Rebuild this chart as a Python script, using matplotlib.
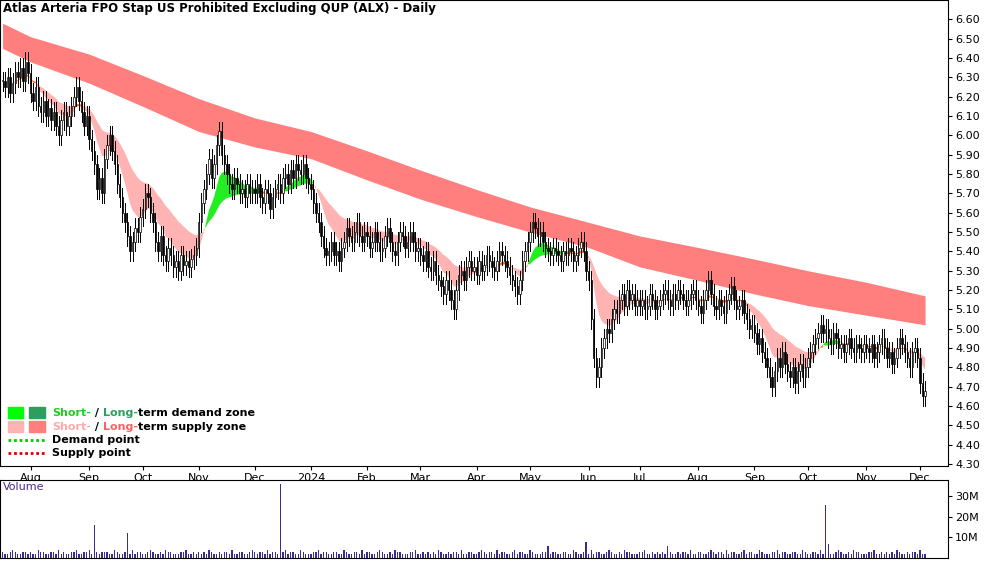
import numpy as np
import pandas as pd
import matplotlib
matplotlib.use("Agg")
import matplotlib.pyplot as plt
from matplotlib.patches import Rectangle

title = "Atlas Arteria FPO Stap US Prohibited Excluding QUP (ALX) - Daily"
closes = [
6.28,6.25,6.30,6.22,6.27,6.33,6.30,6.35,6.28,6.38,6.32,
6.22,6.18,6.25,6.15,6.12,6.18,6.10,6.14,6.08,6.12,6.05,6.00,6.08,6.12,6.05,6.10,6.15,6.20,6.25,6.18,6.12,6.05,6.10,
5.98,5.92,5.85,5.72,5.78,5.70,5.88,5.95,6.00,5.92,5.85,5.75,5.68,5.60,5.55,5.48,5.40,5.45,5.52,5.50,5.58,
5.62,5.70,5.68,5.60,5.55,5.45,5.40,5.48,5.38,5.35,5.42,5.38,5.32,5.35,5.30,5.38,5.33,5.35,5.32,5.36,5.38,5.42,
5.55,5.65,5.72,5.80,5.88,5.78,5.85,5.95,6.02,5.90,5.85,5.80,5.75,5.72,5.78,5.75,5.70,5.72,5.68,5.75,5.70,5.72,
5.70,5.75,5.68,5.65,5.72,5.70,5.62,5.68,5.72,5.75,5.70,5.78,5.80,5.75,5.82,5.78,5.85,5.82,5.80,5.85,5.78,
5.75,5.72,5.65,5.60,5.55,5.48,5.42,5.38,5.40,5.45,5.38,5.40,5.35,5.42,5.45,5.52,5.48,5.45,5.50,5.55,5.48,5.45,5.50,
5.48,5.42,5.45,5.50,5.45,5.40,5.42,5.48,5.52,5.45,5.40,5.38,5.45,5.50,5.48,5.42,5.45,5.50,5.45,5.40,5.42,
5.38,5.35,5.40,5.32,5.30,5.35,5.28,5.25,5.22,5.18,5.25,5.20,5.15,5.10,5.20,5.28,5.30,5.25,5.32,5.35,5.30,
5.32,5.28,5.35,5.30,5.33,5.38,5.35,5.32,5.30,5.35,5.40,5.38,5.35,5.32,5.28,5.25,5.22,5.18,5.25,5.35,5.40,5.45,
5.50,5.55,5.52,5.48,5.50,5.45,5.42,5.40,5.38,5.42,5.40,5.38,5.35,5.40,5.38,5.42,5.40,5.35,5.38,5.42,5.45,5.40,5.30,
5.25,5.05,4.85,4.75,4.80,4.90,4.95,5.00,4.98,5.05,5.10,5.08,5.15,5.18,5.12,5.20,5.15,5.18,5.12,5.15,
5.12,5.15,5.10,5.12,5.18,5.15,5.10,5.12,5.15,5.18,5.20,5.15,5.12,5.18,5.15,5.20,5.18,5.15,5.12,5.15,5.18,5.20,5.15,
5.12,5.08,5.15,5.20,5.25,5.18,5.12,5.10,5.15,5.12,5.08,5.15,5.18,5.22,5.15,5.10,5.12,5.15,5.08,5.05,5.00,5.02,
4.98,4.92,4.95,4.88,4.85,4.80,4.75,4.70,4.78,4.85,4.80,4.88,4.82,4.78,4.75,4.80,4.72,4.78,4.82,4.75,4.80,
4.85,4.88,4.92,4.95,4.98,5.02,4.98,5.00,4.95,4.92,4.98,4.95,4.90,4.92,4.88,4.92,4.95,4.90,4.88,4.92,4.90,4.88,4.92,
4.90,4.88,4.92,4.85,4.88,4.92,4.95,4.90,4.85,4.88,4.82,4.85,4.90,4.95,4.92,4.88,4.85,4.80,4.88,4.90,4.85,
4.72,4.65,4.68]
vol_digits = ("3223432233" "2322433223" "3242322334" "2233422323" "3322432233"
              "2423322343" "2232433222" "3342232323" "2432232332" "4223322343"
              "2332423322" "3423322432" "2233423322" "3322432233" "2423322343"
              "2232433222" "3342232323" "2432232332" "4223322343" "2332423322"
              "3423322432" "2233423322" "3322432233" "2423322343" "2232433222"
              "3342232323" "2432232332" "4223322343" "2332423322" "3423322432"
              "2233423322" "3322432233" "2423322343" "2232433222" "3342232323"
              "2432232332" "422")
vol_spikes = {36: 16, 49: 12, 109: 36, 229: 8, 261: 6, 323: 26, 324: 7, 214: 6}
band_dates = ["2023-07-17","2023-08-01","2023-09-01","2023-10-02","2023-11-01","2023-12-01",
              "2024-01-02","2024-02-01","2024-03-01","2024-04-02","2024-05-01","2024-06-03",
              "2024-07-01","2024-08-01","2024-09-02","2024-10-01","2024-11-01","2024-12-04"]
long_top = [6.58,6.51,6.42,6.31,6.19,6.09,6.02,5.92,5.82,5.72,5.63,5.55,5.48,5.42,5.36,5.30,5.24,5.17]
long_bot = [6.45,6.38,6.27,6.15,6.02,5.94,5.88,5.77,5.67,5.58,5.50,5.42,5.32,5.25,5.18,5.12,5.07,5.02]
month_labels = ["Aug","Sep","Oct","Nov","Dec","2024","Feb","Mar","Apr","May","Jun","Jul","Aug","Sep","Oct","Nov","Dec"]
month_starts = ["2023-08-01","2023-09-01","2023-10-02","2023-11-01","2023-12-01","2024-01-02","2024-02-01",
                "2024-03-01","2024-04-02","2024-05-01","2024-06-03","2024-07-01","2024-08-01","2024-09-02",
                "2024-10-01","2024-11-01","2024-12-02"]

n = len(closes)
dates = pd.bdate_range("2023-07-17", periods=n)
x = np.arange(n)
def d2x(d):
    return np.searchsorted(dates, pd.Timestamp(d))
c = np.array(closes)
o = np.concatenate([[c[0]], c[:-1]])
hi = np.maximum(o, c) + 0.05
lo = np.minimum(o, c) - 0.05
vols = np.array([int(vol_digits[i]) if i < len(vol_digits) else 3 for i in range(n)], float)
for k, v in vol_spikes.items():
    if k < n: vols[k] = v
vols *= 1e6

fig = plt.figure(figsize=(10, 5.62), dpi=100)
ax = fig.add_axes([0.0, 1-466/562, 0.948, 466/562])
av = fig.add_axes([0.0, 1-558/562, 0.948, 78/562], sharex=ax)

bx = [d2x(d) for d in band_dates]
ax.fill_between(bx, long_bot, long_top, color="#ff7f7f", lw=0, zorder=1)
s = pd.Series(c)
fast = s.ewm(span=10).mean().values
slow = s.ewm(span=30).mean().values
diff = fast - slow
up = diff > 0.015
dn = diff < -0.015
mid = ~(up | dn)
ax.fill_between(x, fast, slow, where=dn, color="#ffb3b3", lw=0, interpolate=True, zorder=1)
ax.fill_between(x, fast, slow, where=up, color="#22ee22", lw=0, interpolate=True, zorder=1)
ax.fill_between(x, fast, slow, where=mid, color="#ff6a13", lw=0, interpolate=True, zorder=1)

for i in range(n):
    ax.plot([x[i], x[i]], [lo[i], hi[i]], color="black", lw=0.7, zorder=3)
    b0, b1 = min(o[i], c[i]), max(o[i], c[i])
    fc = "white" if c[i] >= o[i] else "black"
    ax.add_patch(Rectangle((x[i]-0.28, b0), 0.56, max(b1-b0, 0.004), facecolor=fc,
                           edgecolor="black", lw=0.5, zorder=4))

ax.set_xlim(-1, n + 8)
ax.set_ylim(4.29, 6.70)
ax.yaxis.tick_right()
yt = np.round(np.arange(4.3, 6.61, 0.1), 2)
ax.set_yticks(yt)
ax.set_yticklabels([f"{v:.2f}" for v in yt], fontsize=8)
mx = [d2x(d) for d in month_starts]
ax.set_xticks(mx)
ax.set_xticklabels(month_labels, fontsize=8)
ax.tick_params(axis="x", length=3, pad=2)
ax.tick_params(axis="y", length=3, pad=2)
ax.text(0.003, 0.995, title, transform=ax.transAxes, fontsize=8.5, fontweight="bold", va="top", ha="left")

leg_h = [0.114, 0.084, 0.055, 0.027]
ax.add_patch(Rectangle((0.008, leg_h[0]-0.012), 0.016, 0.024, transform=ax.transAxes, color="#00ff00"))
ax.add_patch(Rectangle((0.031, leg_h[0]-0.012), 0.016, 0.024, transform=ax.transAxes, color="#2e9e5e"))
ax.add_patch(Rectangle((0.008, leg_h[1]-0.012), 0.016, 0.024, transform=ax.transAxes, color="#ffb3b3"))
ax.add_patch(Rectangle((0.031, leg_h[1]-0.012), 0.016, 0.024, transform=ax.transAxes, color="#ff7f7f"))
ax.plot([0.008, 0.047], [leg_h[2]]*2, transform=ax.transAxes, color="#00cc00", lw=2, ls=(0, (1, 1)))
ax.plot([0.008, 0.047], [leg_h[3]]*2, transform=ax.transAxes, color="#dd0000", lw=2, ls=(0, (1, 1)))
def txt(y, parts):
    prev = None
    for t, col in parts:
        if prev is None:
            prev = ax.text(0.055, y, t, transform=ax.transAxes, fontsize=8, color=col,
                           va="center", fontweight="bold")
        else:
            prev = ax.annotate(t, xy=(1, 0.5), xycoords=prev, va="center", ha="left",
                               fontsize=8, color=col, fontweight="bold")
txt(leg_h[0], [("Short-", "#22cc22"), (" / ", "black"), ("Long-", "#2e9e5e"), ("term demand zone", "black")])
txt(leg_h[1], [("Short-", "#ffaaaa"), (" / ", "black"), ("Long-", "#ff6060"), ("term supply zone", "black")])
txt(leg_h[2], [("Demand point", "black")])
txt(leg_h[3], [("Supply point", "black")])

av.bar(x, vols, width=0.5, color="#3a2b8c")
av.set_ylim(0, 38e6)
av.yaxis.tick_right()
av.set_yticks([10e6, 20e6, 30e6])
av.set_yticklabels(["10M", "20M", "30M"], fontsize=8)
av.tick_params(axis="x", bottom=False, labelbottom=False)
av.tick_params(axis="y", length=3, pad=2)
av.text(0.003, 0.97, "Volume", transform=av.transAxes, fontsize=8, color="#4b2a8a", va="top")
fig.savefig("out.png", dpi=100)
